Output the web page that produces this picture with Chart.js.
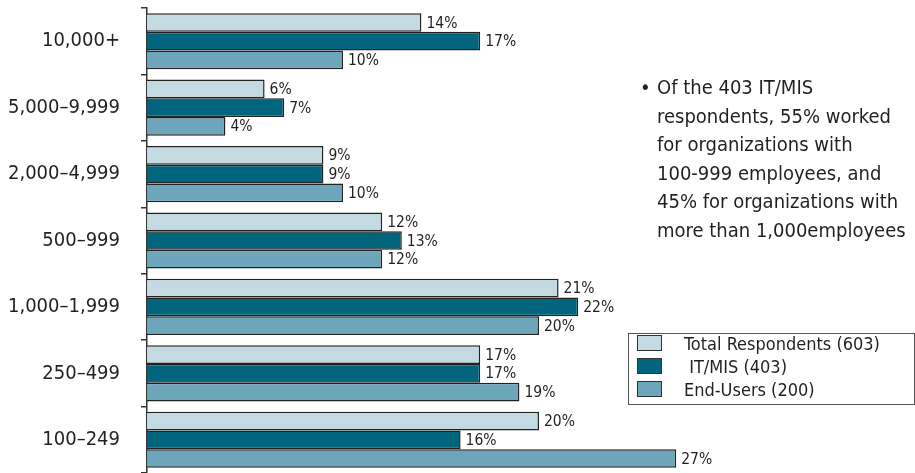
<!DOCTYPE html>
<html lang="en">
<head>
    <meta charset="UTF-8">
    <title>Respondents by Organization Size</title>
    <script src="https://cdn.jsdelivr.net/npm/chart.js"></script>
    <style>
        body {
            margin: 0;
            padding: 0;
            background: #ffffff;
            font-family: "Liberation Sans Narrow", "DejaVu Sans Condensed", "Roboto Condensed", Roboto, sans-serif;
            color: #231f20;
        }

        .wrap {
            position: relative;
            width: 915px;
            height: 473px;
        }

        .note {
            position: absolute;
            left: 657px;
            top: 73px;
            width: 258px;
            font-size: 20px;
            line-height: 28.5px;
            white-space: nowrap;
        }

        .note::before {
            content: "\2022";
            position: absolute;
            left: -17px;
        }

        .legend {
            position: absolute;
            left: 628px;
            top: 333px;
            width: 285px;
            height: 70px;
            border: 1.5px solid #555;
            font-size: 18px;
        }

        .legend div {
            position: absolute;
            left: 8px;
            height: 23px;
            line-height: 23px;
        }

        .legend span {
            display: inline-block;
            width: 23px;
            height: 14px;
            border: 1px solid #333;
            vertical-align: -1px;
            margin-right: 22px;
        }
    </style>
</head>
<body>
    <div class="wrap">
        <canvas id="sizeChart" width="915" height="473"></canvas>
        <div class="note">Of the 403 IT/MIS<br>respondents, 55% worked<br>for organizations with<br>100-999 employees, and<br>45% for organizations with<br>more than 1,000employees</div>
        <div class="legend" id="legend"></div>
    </div>

    <script>
        const categories = ['10,000+', '5,000\u20139,999', '2,000\u20134,999', '500\u2013999', '1,000\u20131,999', '250\u2013499', '100\u2013249'];
        const totalRespondents = [14, 6, 9, 12, 21, 17, 20];
        const itMis = [17, 7, 9, 13, 22, 17, 16];
        const endUsers = [10, 4, 10, 12, 20, 19, 27];
        const seriesLabels = ['Total Respondents (603)', 'IT/MIS (403)', 'End-Users (200)'];
        const seriesColors = ['#c3dae3', '#02657e', '#6da5bb'];

        const fontFamily = '"Liberation Sans Narrow", "DejaVu Sans Condensed", "Roboto Condensed", Roboto, sans-serif';

        // Percent labels just past the end of each bar
        const valueLabels = {
            id: 'valueLabels',
            afterDatasetsDraw(chart) {
                const ctx = chart.ctx;
                ctx.save();
                ctx.font = '15.5px ' + fontFamily;
                ctx.fillStyle = '#231f20';
                ctx.textAlign = 'left';
                ctx.textBaseline = 'middle';
                chart.data.datasets.forEach((ds, i) => {
                    chart.getDatasetMeta(i).data.forEach((bar, j) => {
                        ctx.fillText(ds.data[j] + '%', bar.x + 5, bar.y + 1);
                    });
                });
                ctx.restore();
            }
        };

        const ctx = document.getElementById('sizeChart').getContext('2d');
        const chart = new Chart(ctx, {
            type: 'bar',
            data: {
                labels: categories,
                datasets: [totalRespondents, itMis, endUsers].map((values, i) => ({
                    label: seriesLabels[i],
                    data: values,
                    backgroundColor: seriesColors[i],
                    borderColor: '#222',
                    borderWidth: 1.5,
                    barPercentage: 1.0,
                    categoryPercentage: 0.845,
                })),
            },
            options: {
                indexAxis: 'y',
                responsive: false,
                animation: false,
                layout: {
                    padding: { left: 0, right: 180, top: 8, bottom: 0 },
                },
                plugins: {
                    legend: { display: false },
                    tooltip: { enabled: false },
                },
                scales: {
                    x: {
                        display: false,
                        min: 0,
                        max: 30,
                    },
                    y: {
                        // fixed axis position, and no extra room above/below for the labels
                        afterFit: (scale) => {
                            scale.width = 147;
                            scale.paddingTop = 0;
                            scale.paddingBottom = 0;
                        },
                        border: { display: true, color: '#333', width: 1.5 },
                        grid: {
                            drawOnChartArea: false,
                            drawTicks: true,
                            tickLength: 6,
                            color: '#333',
                            lineWidth: 1.5,
                        },
                        ticks: {
                            padding: 21,
                            color: '#231f20',
                            font: { family: fontFamily, size: 20 },
                        },
                    },
                },
            },
            plugins: [valueLabels],
        });

        // Legend box built from the dataset labels and colours
        const legend = document.getElementById('legend');
        chart.data.datasets.forEach((ds, i) => {
            const row = document.createElement('div');
            row.style.top = (-2 + i * 23) + 'px';
            const swatch = document.createElement('span');
            swatch.style.background = ds.backgroundColor;
            row.appendChild(swatch);
            row.appendChild(document.createTextNode((i === 1 ? '\u00a0' : '') + ds.label));
            legend.appendChild(row);
        });
    </script>
</body>
</html>
